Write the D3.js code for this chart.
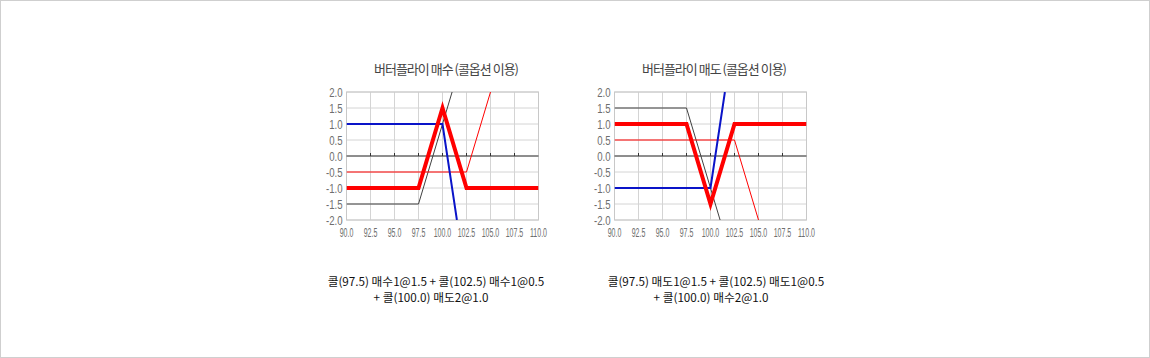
<!DOCTYPE html>
<html><head><meta charset="utf-8">
<script src="https://cdn.jsdelivr.net/npm/d3@7"></script>
<style>
html,body{margin:0;padding:0;background:#fff;}
svg{display:block;}
</style></head>
<body>
<svg id="c" width="1150" height="358"></svg>
<script>
// ---- data ----
const xTickValues = [90, 92.5, 95, 97.5, 100, 102.5, 105, 107.5, 110];
const xTickLabels = ["90.0","92.5","95.0","97.5","100.0","102.5","105.0","107.5","110.0"];
const yTickValues = [2, 1.5, 1, 0.5, 0, -0.5, -1, -1.5, -2];
const yTickLabels = ["2.0","1.5","1.0","0.5","0.0","-0.5","-1.0","-1.5","-2.0"];

const titles = ["버터플라이 매수 (콜옵션 이용)", "버터플라이 매도 (콜옵션 이용)"];
const captionsLine1 = ["콜(97.5) 매수1@1.5 + 콜(102.5) 매수1@0.5", "콜(97.5) 매도1@1.5 + 콜(102.5) 매도1@0.5"];
const captionsLine2 = ["+ 콜(100.0) 매도2@1.0", "+ 콜(100.0) 매수2@1.0"];

// buy butterfly (left)
const buyCall975 = [[90,-1.5],[97.5,-1.5],[101.0,2.0]];
const buyCall1025 = [[90,-0.5],[102.5,-0.5],[105.0,2.0]];
const buyCall100 = [[90,1.0],[100,1.0],[101.5,-2.0]];
const buyTotal = [[90,-1.0],[97.5,-1.0],[100,1.5],[102.5,-1.0],[110,-1.0]];
// sell butterfly (right)
const sellCall975 = [[90,1.5],[97.5,1.5],[101.0,-2.0]];
const sellCall1025 = [[90,0.5],[102.5,0.5],[105.0,-2.0]];
const sellCall100 = [[90,-1.0],[100,-1.0],[101.5,2.0]];
const sellTotal = [[90,1.0],[97.5,1.0],[100,-1.5],[102.5,1.0],[110,1.0]];

// ---- drawing ----
const svg = d3.select("#c");
svg.append("rect").attr("x",0.5).attr("y",0.5).attr("width",1149).attr("height",357)
  .attr("fill","#fff").attr("stroke","#cfcfcf");

const charts = [
  {left:346.5, top:92, title:titles[0], titleX:446, cap1:captionsLine1[0], cap2:captionsLine2[0], cap1X:436, cap2X:431,
   series:[{d:buyCall975,c:"#404040",w:1},{d:buyCall1025,c:"#ff0000",w:1},{d:buyCall100,c:"#0a14c8",w:2},{d:buyTotal,c:"#ff0000",w:4}]},
  {left:614.5, top:92, title:titles[1], titleX:714, cap1:captionsLine1[1], cap2:captionsLine2[1], cap1X:716, cap2X:711,
   series:[{d:sellCall975,c:"#404040",w:1},{d:sellCall1025,c:"#ff0000",w:1},{d:sellCall100,c:"#0a14c8",w:2},{d:sellTotal,c:"#ff0000",w:4}]}
];
const W = 192, H = 128;
const labelFont = "'Liberation Sans',Arial,sans-serif";

charts.forEach((ch, i) => {
  const g = svg.append("g").attr("transform", `translate(${ch.left},${ch.top})`);
  const x = d3.scaleLinear().domain([90,110]).range([0,W]);
  const y = d3.scaleLinear().domain([-2,2]).range([H,0]);

  // grid
  g.append("g").selectAll("line").data(xTickValues).join("line")
    .attr("x1",d=>x(d)).attr("x2",d=>x(d)).attr("y1",0).attr("y2",H)
    .attr("stroke","#d4d4d4").attr("stroke-width",1);
  g.append("g").selectAll("line").data(yTickValues).join("line")
    .attr("x1",0).attr("x2",W).attr("y1",d=>y(d)).attr("y2",d=>y(d))
    .attr("stroke","#d4d4d4").attr("stroke-width",1);
  g.append("rect").attr("x",0).attr("y",0).attr("width",W).attr("height",H)
    .attr("fill","none").attr("stroke","#c8c8c8");

  // zero axis with ticks
  g.append("line").attr("x1",0).attr("x2",W).attr("y1",y(0)).attr("y2",y(0))
    .attr("stroke","#333").attr("stroke-width",1);
  g.append("g").selectAll("line").data(xTickValues.slice(1,-1)).join("line")
    .attr("x1",d=>x(d)).attr("x2",d=>x(d)).attr("y1",y(0)-3).attr("y2",y(0))
    .attr("stroke","#333").attr("stroke-width",1);

  // axis labels (condensed via horizontal scale)
  g.append("g").selectAll("text").data(yTickValues).join("text")
    .attr("transform",d=>`translate(-4,${y(d)}) scale(0.74,1)`)
    .attr("dy","0.36em").attr("text-anchor","end")
    .attr("font-family",labelFont).attr("font-size",13).attr("fill","#6e6e6e")
    .text((d,j)=>yTickLabels[j]);
  g.append("g").selectAll("text").data(xTickValues).join("text")
    .attr("transform",d=>`translate(${x(d)},${H+16.5}) scale(0.54,1)`)
    .attr("text-anchor","middle")
    .attr("font-family",labelFont).attr("font-size",13).attr("fill","#6e6e6e")
    .text((d,j)=>xTickLabels[j]);

  // clip
  const cid = "clip"+i;
  g.append("clipPath").attr("id",cid).append("rect").attr("x",0).attr("y",0).attr("width",W).attr("height",H);
  const line = d3.line().x(d=>x(d[0])).y(d=>y(d[1]));
  const lg = g.append("g").attr("clip-path",`url(#${cid})`);
  ch.series.forEach(s => {
    lg.append("path").attr("d",line(s.d)).attr("fill","none")
      .attr("stroke",s.c).attr("stroke-width",s.w).attr("stroke-linejoin","miter");
  });

  // title
  svg.append("text").attr("x",ch.titleX).attr("y",74).attr("text-anchor","middle")
    .attr("font-family","'Noto Sans CJK KR',sans-serif").attr("font-size",13)
    .attr("letter-spacing","-1px").attr("fill","#444").text(ch.title);
  // captions
  svg.append("text").attr("x",ch.cap1X).attr("y",286).attr("text-anchor","middle")
    .attr("font-family","'Noto Sans CJK KR',sans-serif").attr("font-size",11.7)
    .attr("fill","#111").text(ch.cap1);
  svg.append("text").attr("x",ch.cap2X).attr("y",302).attr("text-anchor","middle")
    .attr("font-family","'Noto Sans CJK KR',sans-serif").attr("font-size",11.7)
    .attr("fill","#111").text(ch.cap2);
});
</script>
</body></html>
